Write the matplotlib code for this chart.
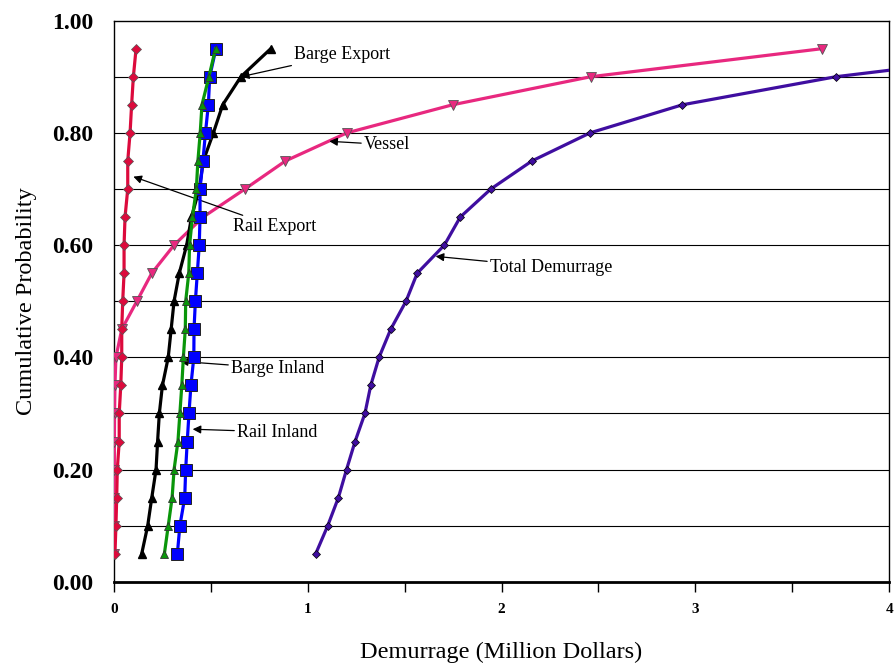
import matplotlib
matplotlib.use("Agg")
from matplotlib import pyplot as plt
from matplotlib.ticker import MultipleLocator

plt.rcParams['font.family'] = ['Liberation Serif', 'DejaVu Serif']

# cumulative probability levels
prob = [0.05, 0.10, 0.15, 0.20, 0.25, 0.30, 0.35, 0.40, 0.45, 0.50,
        0.55, 0.60, 0.65, 0.70, 0.75, 0.80, 0.85, 0.90, 0.95]

# demurrage (million dollars) per series
rail_export = [0.005, 0.010, 0.014, 0.017, 0.027, 0.027, 0.035, 0.040, 0.040, 0.045,
               0.052, 0.052, 0.057, 0.071, 0.071, 0.083, 0.091, 0.100, 0.114]
barge_export = [0.143, 0.174, 0.195, 0.217, 0.225, 0.234, 0.250, 0.280, 0.295, 0.310,
                0.337, 0.375, 0.400, 0.440, 0.461, 0.513, 0.561, 0.655, 0.809]
barge_inland = [0.260, 0.280, 0.300, 0.310, 0.330, 0.340, 0.350, 0.358, 0.368, 0.370,
                0.386, 0.390, 0.405, 0.425, 0.433, 0.445, 0.454, 0.490, 0.524]
rail_inland = [0.327, 0.340, 0.365, 0.370, 0.378, 0.387, 0.397, 0.412, 0.413, 0.420,
               0.430, 0.440, 0.444, 0.444, 0.459, 0.472, 0.487, 0.494, 0.526]
vessel = [0.000, 0.000, 0.000, 0.002, 0.002, 0.003, 0.005, 0.010, 0.040, 0.118,
          0.195, 0.310, 0.460, 0.676, 0.885, 1.202, 1.747, 2.460, 3.654]
total = [1.041, 1.103, 1.158, 1.200, 1.244, 1.295, 1.325, 1.368, 1.428, 1.507,
         1.565, 1.705, 1.787, 1.945, 2.157, 2.457, 2.933, 3.725, 4.920]

# label text, arrow target, text position
notes = [
    ("Barge Export", (0.655, 0.90), (0.93, 0.94)),
    ("Vessel", (1.111, 0.785), (1.29, 0.779)),
    ("Rail Export", (0.10, 0.722), (0.614, 0.633)),
    ("Total Demurrage", (1.66, 0.58), (1.94, 0.56)),
    ("Barge Inland", (0.34, 0.393), (0.604, 0.38)),
    ("Rail Inland", (0.406, 0.272), (0.635, 0.267)),
]

fig = plt.figure(figsize=(8.94, 6.65), dpi=100)
ax = fig.add_axes([0.1275, 0.125, 0.867, 0.844])

# horizontal grid
for g in [0.1, 0.2, 0.3, 0.4, 0.5, 0.6, 0.7, 0.8, 0.9]:
    ax.axhline(g, color="black", lw=0.8, zorder=1)

lw = 2.3
ax.plot(total, prob, color="#3f0ea0", lw=lw, marker="D", ms=4,
        mfc="#3f0ea0", mec="black", mew=0.5, zorder=3)
ax.plot(vessel, prob, color="#e8287f", lw=lw, marker="v", ms=6.5,
        mfc="#e8287f", mec="#555555", mew=0.6, zorder=3)
ax.plot(barge_export, prob, color="black", lw=lw, marker="^", ms=6,
        mfc="black", mec="black", zorder=4)
ax.plot(rail_inland, prob, color="#0000ff", lw=lw, marker="s", ms=8,
        mfc="#0000ff", mec="#222222", mew=0.7, zorder=4)
ax.plot(barge_inland, prob, color="#0a960a", lw=lw, marker="^", ms=6,
        mfc="#0a960a", mec="#333333", mew=0.6, zorder=5)
ax.plot(rail_export, prob, color="#dc0a3c", lw=lw, marker="D", ms=5,
        mfc="#dc0a3c", mec="#555555", mew=0.5, zorder=5)

for txt, xy, xyt in notes:
    ax.annotate(txt, xy=xy, xytext=xyt, fontsize=13, ha="left", va="center",
                arrowprops=dict(arrowstyle="-|>", color="black", lw=0.9,
                                mutation_scale=12, shrinkA=0, shrinkB=0))

ax.set_xlim(0, 4)
ax.set_ylim(0, 1)
ax.xaxis.set_major_locator(MultipleLocator(1))
ax.xaxis.set_minor_locator(MultipleLocator(0.5))
ax.yaxis.set_major_locator(MultipleLocator(0.2))
ax.yaxis.set_major_formatter(lambda v, p: "%.2f" % v)
ax.tick_params(axis="x", which="both", direction="out", length=7, width=1,
               labelsize=11, pad=8)
ax.tick_params(axis="y", length=0, labelsize=17, pad=15)
for lab in ax.get_xticklabels() + ax.get_yticklabels():
    lab.set_fontweight("bold")
for s in ax.spines.values():
    s.set_linewidth(1)
ax.spines["bottom"].set_linewidth(2)

ax.set_xlabel("Demurrage (Million Dollars)", fontsize=17.5, labelpad=19)
ax.set_ylabel("Cumulative Probability", fontsize=17.5, labelpad=11)

fig.savefig("out.png", dpi=100)
